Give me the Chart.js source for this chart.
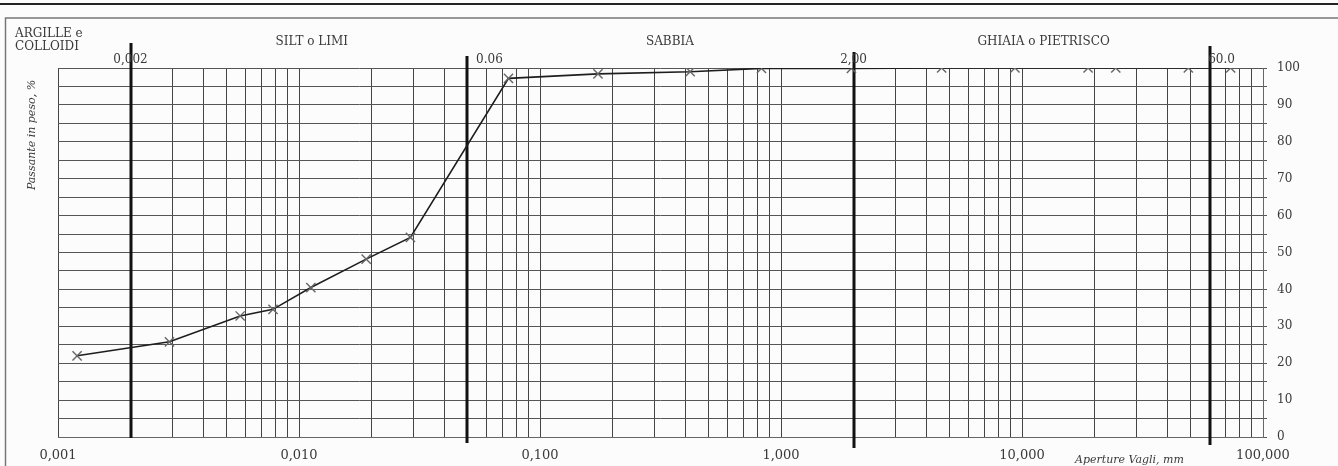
<!DOCTYPE html>
<html lang="it">
<head>
  <meta charset="UTF-8">
  <title>Curva granulometrica</title>
  <script src="https://cdn.jsdelivr.net/npm/chart.js"></script>
  <style>
    html, body { margin: 0; padding: 0; background: #fff; }
    #wrap { width: 1338px; height: 466px; }
  </style>
</head>
<body>
  <div id="wrap"><canvas id="grain" width="1338" height="466"></canvas></div>

  <script>
    // dati
    const sieveSizes = [0.0012, 0.0029, 0.0057, 0.0078, 0.0112, 0.019, 0.029, 0.074, 0.174, 0.42, 0.83, 1.96, 4.64, 9.35, 18.8, 24.5, 49, 73.4];
    const passing = [22, 25.8, 32.8, 34.6, 40.5, 48.2, 54.1, 97.2, 98.4, 99.0, 99.9, 99.9, 100, 100, 100, 100, 100, 100];

    const decadeValues = [0.001, 0.01, 0.1, 1, 10, 100];
    const decadeLabels = ['0,001', '0,010', '0,100', '1,000', '10,000', '100,000'];

    const boundaryValues = [0.002, 0.05, 2, 60];
    const boundaryLabels = ['0,002', '0.06', '2,00', '60.0'];

    const zoneNames = ['SILT o LIMI', 'SABBIA', 'GHIAIA o PIETRISCO'];
    const zoneCenters = [0.0113, 0.346, 12.3];

    const serif = '"DejaVu Serif", "Liberation Serif", serif';
    const ink = '#3a3a3a';

    // linee verticali della carta logaritmica: 1..9 per ogni decade
    function logGridTicks() {
      const out = [];
      for (let k = -3; k < 2; k++) {
        for (let m = 1; m < 10; m++) out.push({ value: m * Math.pow(10, k) });
      }
      out.push({ value: 100 });
      return out;
    }

    const paperPlugin = {
      id: 'paper',
      beforeDraw(chart) {
        const c = chart.ctx;
        c.save();
        c.fillStyle = '#fdfcfd';
        c.fillRect(0, 0, chart.width, chart.height);
        // cornice
        c.strokeStyle = '#222';
        c.lineWidth = 2;
        c.beginPath(); c.moveTo(0, 4); c.lineTo(chart.width, 4); c.stroke();
        c.strokeStyle = '#777';
        c.lineWidth = 1.5;
        c.beginPath();
        c.moveTo(5.5, chart.height); c.lineTo(5.5, 18); c.lineTo(chart.width, 18);
        c.stroke();
        c.restore();
      },
      beforeDatasetsDraw(chart) {
        const c = chart.ctx, x = chart.scales.x;
        const tops = [43, 56, 52, 46];
        const bottoms = [438, 443, 448, 445];
        c.save();
        c.strokeStyle = '#111';
        c.lineWidth = 3;
        boundaryValues.forEach((v, i) => {
          const px = Math.round(x.getPixelForValue(v));
          c.beginPath(); c.moveTo(px, tops[i]); c.lineTo(px, bottoms[i]); c.stroke();
        });
        c.restore();
      },
      afterDraw(chart) {
        const c = chart.ctx, x = chart.scales.x;
        c.save();
        c.fillStyle = ink;
        c.font = '12px ' + serif;
        c.textBaseline = 'middle';

        // nomi delle classi granulometriche
        c.textAlign = 'left';
        c.fillText('ARGILLE e', 15, 34);
        c.fillText('COLLOIDI', 15, 47);
        c.textAlign = 'center';
        zoneNames.forEach((t, i) => c.fillText(t, x.getPixelForValue(zoneCenters[i]), 42));

        // valori limite
        const offs = [0, 22, 0, 12];
        boundaryLabels.forEach((t, i) => {
          const px = x.getPixelForValue(boundaryValues[i]);
          c.fillText(t, px + offs[i], 60);
        });

        // titoli assi
        c.font = 'italic 11px ' + serif;
        c.textAlign = 'left';
        c.fillText('Aperture Vagli, mm', 1075, 460);
        c.translate(32, 135);
        c.rotate(-Math.PI / 2);
        c.textAlign = 'center';
        c.fillText('Passante in peso, %', 0, 0);
        c.restore();
      }
    };

    new Chart(document.getElementById('grain'), {
      type: 'line',
      data: {
        datasets: [{
          data: sieveSizes.map((s, i) => ({ x: s, y: passing[i] })),
          borderColor: '#1e1e1e',
          borderWidth: 1.6,
          tension: 0,
          pointStyle: 'crossRot',
          pointRadius: 6.5,
          pointBorderColor: '#666',
          pointBorderWidth: 1.4,
          fill: false
        }]
      },
      options: {
        responsive: false,
        animation: false,
        layout: { padding: { left: 58, top: 68, right: 0, bottom: 0 } },
        plugins: { legend: { display: false }, tooltip: { enabled: false } },
        scales: {
          x: {
            type: 'logarithmic',
            min: 0.001,
            max: 100,
            afterBuildTicks: (s) => { s.ticks = logGridTicks(); },
            afterFit: (s) => { s.height = 29; },
            grid: { color: '#444', lineWidth: 1, drawTicks: false },
            border: { color: '#666' },
            ticks: {
              autoSkip: false,
              maxRotation: 0,
              padding: 11,
              color: ink,
              font: { family: serif, size: 13 },
              callback: (v) => {
                const i = decadeValues.findIndex(d => Math.abs(d - v) < d * 1e-6);
                return i >= 0 ? decadeLabels[i] : '';
              }
            }
          },
          y: {
            position: 'right',
            min: 0,
            max: 100,
            afterFit: (s) => { s.width = 75; },
            grid: { color: '#555', lineWidth: 1, tickLength: 4 },
            border: { color: '#666' },
            ticks: {
              stepSize: 5,
              padding: 10,
              color: ink,
              font: { family: serif, size: 12 },
              callback: (v) => (v % 10 === 0 ? String(v) : '')
            }
          }
        }
      },
      plugins: [paperPlugin]
    });
  </script>
</body>
</html>
